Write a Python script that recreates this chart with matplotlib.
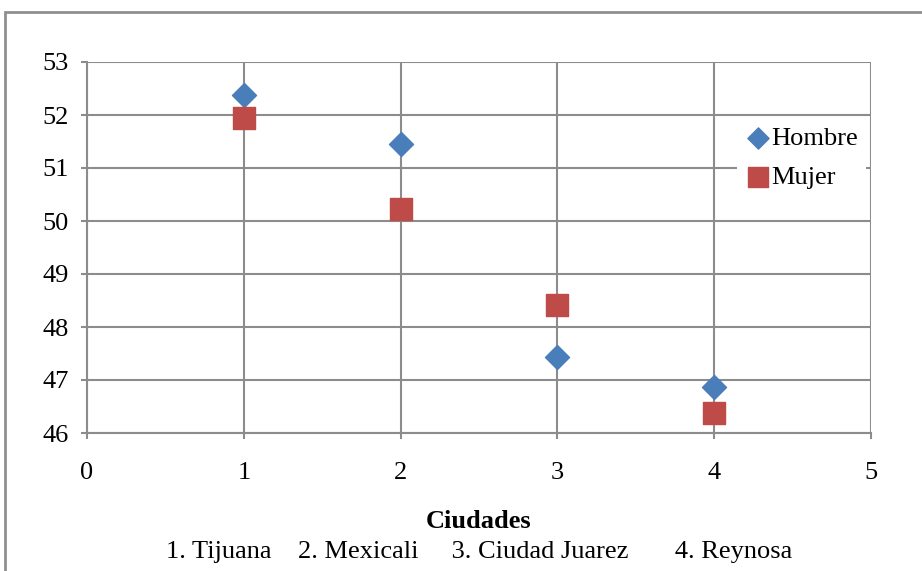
import matplotlib.pyplot as plt
from matplotlib.patches import Rectangle

# ---------------- Data ----------------

ciudades = [1, 2, 3, 4]
hombre = [52.38, 51.45, 47.43, 46.87]
mujer = [51.95, 50.22, 48.42, 46.38]
x_ticks = [0, 1, 2, 3, 4, 5]
y_ticks = [46, 47, 48, 49, 50, 51, 52, 53]
nota = "1. Tijuana    2. Mexicali     3. Ciudad Juarez       4. Reynosa"

plt.rcParams["font.family"] = ["Liberation Serif", "DejaVu Serif"]
grid_c = "#8c8c8c"
fs = 19

# ---------------- Figure ----------------

fig = plt.figure(figsize=(9.22, 5.71), dpi=100)
W, H = 922, 571
ax = fig.add_axes([87 / W, 1 - 433 / H, (871 - 87) / W, (433 - 62) / H])

# outer chart border
fig.patches.append(Rectangle((5 / W, -0.1), 1.2, 1 - 12 / H + 0.1,
                             transform=fig.transFigure, fill=False,
                             edgecolor="#8f8f8f", linewidth=2))

ax.scatter(ciudades, hombre, marker="D", s=150, color="#4a7ebb",
           label="Hombre", zorder=3)
ax.scatter(ciudades, mujer, marker="s", s=260, color="#be4b48",
           label="Mujer", zorder=3)

ax.set_xlim(0, 5)
ax.set_ylim(46, 53)
ax.set_xticks(x_ticks)
ax.set_yticks(y_ticks)
ax.grid(True, color=grid_c, linewidth=1.5)
ax.set_axisbelow(True)
for s in ax.spines.values():
    s.set_color(grid_c)
    s.set_linewidth(1.5)
ax.spines["top"].set_visible(False)
ax.spines["right"].set_visible(False)
ax.tick_params(direction="out", length=4, width=1.5, color=grid_c,
               labelsize=fs)
ax.tick_params(axis="x", pad=17)
ax.tick_params(axis="y", pad=9)

fig.text(479 / W, 1 - 522 / H, "Ciudades", ha="center", va="center",
         fontsize=fs, fontweight="bold")
fig.text(479 / W, 1 - 552 / H, nota, ha="center", va="center", fontsize=fs)

leg = fig.legend(loc="center left", bbox_to_anchor=(737 / W, 1 - 158 / H),
                 frameon=True, fontsize=fs, handletextpad=0.0,
                 borderpad=0.3, labelspacing=0.6, handlelength=1.0,
                 markerscale=0.88, borderaxespad=0)
leg.get_frame().set_edgecolor("none")
leg.get_frame().set_facecolor("white")
leg.get_frame().set_alpha(1)
leg.get_frame().set_boxstyle("square", pad=0)

fig.savefig("out.png", dpi=100)
